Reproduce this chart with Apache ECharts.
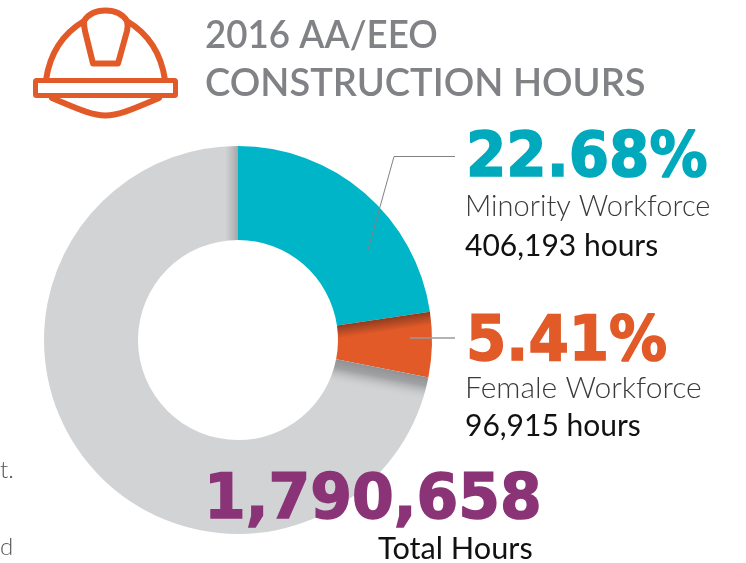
<!DOCTYPE html>
<html><head><meta charset="utf-8">
<style>html,body{margin:0;padding:0;background:#fff}#c{width:746px;height:563px}</style>
<script src="https://cdn.jsdelivr.net/npm/echarts@6/dist/echarts.min.js"></script>
</head><body><div id="c"></div>
<script>
const categories = ['Minority Workforce', 'Female Workforce', 'Other'];
const hours = [406193, 96915, 1287550];
const percentLabels = ['22.68%', '5.41%'];
const hourLabels = ['406,193 hours', '96,915 hours'];
const totalLabel = '1,790,658';
const colors = ['#00B5C8', '#E25A28', '#D1D3D4'];

const cx = 238, cy = 340;
const total = hours.reduce((a, b) => a + b, 0);
const tealEnd = hours[0] / total * 2 * Math.PI;
const orangeEnd = (hours[0] + hours[1]) / total * 2 * Math.PI;

function edgeShade(angle, depth, stops) {
  return { type: 'linear', global: true, x: cx, y: cy,
    x2: cx + Math.cos(angle) * depth, y2: cy + Math.sin(angle) * depth,
    colorStops: stops };
}
const clear = { color: 'rgba(0,0,0,0)' };
const hatPath = 'M46 80 C50 52 64 33 84 21 C89 13 96 10.500 105.500 10.500 C115 10.500 122 13 127 21 C147 33 161 52 165 80 ' +
  'M84 21 C84 25 84 27 85 31 L93 63.500 L118 63.500 L127 31 C128 27 128 25 127 21 ' +
  'M52 98 C76 108 92 115.500 105.500 115.500 C119 115.500 135 108 159 98';
echarts.graphic.registerShape('hat', echarts.graphic.extendPath(hatPath));

function txt(text, x, y, size, color, extra) {
  const el = { type: 'text', z: 20, x: x, y: y,
    style: Object.assign({ text: text, fontSize: size, fill: color, fontFamily: 'Lato', verticalAlign: 'middle', align: 'left' }, extra || {}) };
  return el;
}
function heavy(color) {
  return { fontFamily: 'DejaVu Sans', fontWeight: 'bold', stroke: color, lineWidth: 1.5 };
}
const shadowA = total * 0.05, shadowB = total * 0.03;

const chart = echarts.init(document.getElementById('c'), null, { renderer: 'canvas' });
chart.setOption({
  animation: false,
  backgroundColor: '#fff',
  series: [{
    type: 'pie', silent: true, center: [cx, cy], radius: [100, 194], startAngle: 90, clockwise: true,
    label: { show: false }, labelLine: { show: false },
    data: categories.map((n, i) => ({ name: n, value: hours[i], itemStyle: {
      color: i === 1 ? edgeShade(tealEnd, 13, [{ offset: 0, color: '#8F3C20' }, { offset: 1, color: colors[1] }]) : colors[i] } }))
  }, {
    type: 'pie', silent: true, center: [cx, cy], radius: [100, 194], startAngle: 90, clockwise: true,
    label: { show: false }, labelLine: { show: false }, z: 3,
    data: [
      { value: hours[0] + hours[1], itemStyle: clear },
      { value: shadowA, itemStyle: { color: edgeShade(orangeEnd, 24, [
        { offset: 0, color: 'rgba(130,130,132,0.8)' },
        { offset: 0.35, color: 'rgba(135,135,137,0.65)' },
        { offset: 1, color: 'rgba(209,211,212,0)' }]) } },
      { value: total - hours[0] - hours[1] - shadowA - shadowB, itemStyle: clear },
      { value: shadowB, itemStyle: { color: { type: 'linear', global: true, x: cx - 13, y: cy, x2: cx, y2: cy,
        colorStops: [{ offset: 0, color: 'rgba(140,140,142,0)' }, { offset: 1, color: 'rgba(120,120,122,0.5)' }] } } }
    ]
  }],
  graphic: [
    { type: 'hat', z: 15, shape: {}, style: { fill: null, stroke: '#E25A28', lineWidth: 6, lineJoin: 'round', lineCap: 'round' } },
    { type: 'rect', z: 15, shape: { x: 35.5, y: 80.5, width: 140, height: 15, r: 1 }, style: { fill: '#fff', stroke: '#E25A28', lineWidth: 5, lineJoin: 'round' } },

    Object.assign(txt('2016 AA/EEO', 205, 36, 38, '#808285', { fontWeight: 600 }), { scaleX: 0.966 }),
    txt('CONSTRUCTION HOURS', 205, 84, 38, '#808285', { fontWeight: 600 }),

    { type: 'polyline', z: 12, shape: { points: [[455, 156.5], [394, 156.5], [368, 250]] }, style: { fill: null, stroke: '#808285', lineWidth: 1 } },
    { type: 'polyline', z: 12, shape: { points: [[455, 338], [410, 338]] }, style: { fill: null, stroke: '#9A9A9C', lineWidth: 1.5 } },

    Object.assign(txt(percentLabels[0], 466, 159.5, 58, '#00A9BC', heavy('#00A9BC')), { scaleY: 1.065 }),
    txt(categories[0], 465, 206.5, 29, '#3A3A3C', { fontWeight: 300 }),
    txt(hourLabels[0], 465, 246, 30, '#111', { fontWeight: 'normal' }),

    Object.assign(txt(percentLabels[1], 466, 343.5, 58, '#E25A28', heavy('#E25A28')), { scaleY: 1.065 }),
    txt(categories[1], 465, 388, 30, '#3A3A3C', { fontWeight: 300 }),
    txt(hourLabels[1], 465, 426, 30, '#111', { fontWeight: 'normal' }),

    Object.assign(txt(totalLabel, 204, 502, 60, '#8A3477', heavy('#8A3477')), { scaleY: 1.03 }),
    txt('Total Hours', 378, 549.5, 30.7, '#111', { fontWeight: 'normal' }),

    txt('t.', 0, 470, 24, '#555', { fontWeight: 300 }),
    txt('d', 0, 547, 24, '#555', { fontWeight: 300 })
  ]
});
</script></body></html>
